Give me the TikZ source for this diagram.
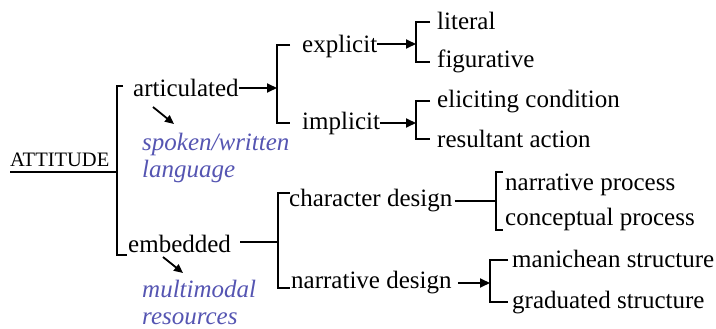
\documentclass[tikz,border=0pt]{standalone}
\usepackage{fontspec}
\setmainfont{Liberation Serif}
\usetikzlibrary{arrows.meta}
\definecolor{lblue}{RGB}{85,85,178}
\begin{document}
\begin{tikzpicture}[x=1pt,y=-1pt,
 txt/.style={anchor=base west, inner sep=0pt, font=\fontsize{25}{28}\selectfont},
 note/.style={anchor=base west, inner sep=0pt, text=lblue, font=\fontsize{25}{28}\selectfont\itshape},
 ln/.style={line width=1.8pt},
 arr/.style={line width=1.8pt, -{Triangle[length=10pt,width=9pt]}},
 darr/.style={line width=1.8pt, -{Triangle[length=9pt,width=8pt]}},
 brk/.style={line width=1.6pt}]
\useasboundingbox (0,0) rectangle (716,329);

% root
\node[anchor=base west, inner sep=0pt, font=\fontsize{20.5}{23}\selectfont] (att) at (10,167) {ATTITUDE};
\coordinate (b0) at (117,172);
\draw[ln] (att.base west |- b0) -- (b0);
\draw[brk] (123,86) -- (117,86) -- (117,255) -- (127,255);

% articulated branch
\node[txt] (artic) at (133,97) {articulated};
\node[note] (spoken) at (142,150) {spoken/written};
\node[note] (lang) at (142,178) {language};
\coordinate (d1s) at (153,107);
\coordinate (d1e) at (174,124);
\draw[darr] (d1s) -- (d1e);
\coordinate (b1) at (277,88);
\draw[arr] (artic.east |- b1) -- (b1);
\draw[brk] (290,45) -- (277,45) -- (277,123) -- (290,123);

\node[txt] (expl) at (302,53) {explicit};
\node[txt] (impl) at (302,130) {implicit};

\coordinate (b2) at (416,44);
\draw[arr] (expl.east |- b2) -- (b2);
\draw[brk] (430,22) -- (416,22) -- (416,62) -- (430,62);
\node[txt] (lit) at (437,30) {literal};
\node[txt] (fig) at (437,68) {figurative};

\coordinate (b3) at (416,123);
\draw[arr] (impl.east |- b3) -- (b3);
\draw[brk] (430,101) -- (416,101) -- (416,139) -- (430,139);
\node[txt] (elic) at (437,108) {eliciting condition};
\node[txt] (res) at (437,147) {resultant action};

% embedded branch
\node[txt] (emb) at (128,252) {embedded};
\node[note] (multi) at (142,297) {multimodal};
\node[note] (resrc) at (142,324.5) {resources};
\coordinate (d2s) at (163,257);
\coordinate (d2e) at (183,273);
\draw[darr] (d2s) -- (d2e);
\coordinate (b4) at (278,242);
\draw[ln] ([xshift=9pt]emb.east |- b4) -- (b4);
\draw[brk] (290,193) -- (278,193) -- (278,288) -- (290,288);

\node[txt] (char) at (289,207) {character design};
\node[txt] (narr) at (291,288) {narrative design};

\coordinate (b5) at (496,201);
\draw[ln] ([xshift=2pt]char.east |- b5) -- (b5);
\draw[brk] (503,172) -- (496,172) -- (496,230) -- (503,230);
\node[txt] (np) at (505,190) {narrative process};
\node[txt] (cp) at (505,225) {conceptual process};

\coordinate (b6) at (490,283);
\draw[arr] ([xshift=6pt]narr.east |- b6) -- (b6);
\draw[brk] (508,260) -- (490,260) -- (490,302) -- (508,302);
\node[txt] (man) at (512,267) {manichean structure};
\node[txt] (grad) at (512,308) {graduated structure};
\end{tikzpicture}
\end{document}
